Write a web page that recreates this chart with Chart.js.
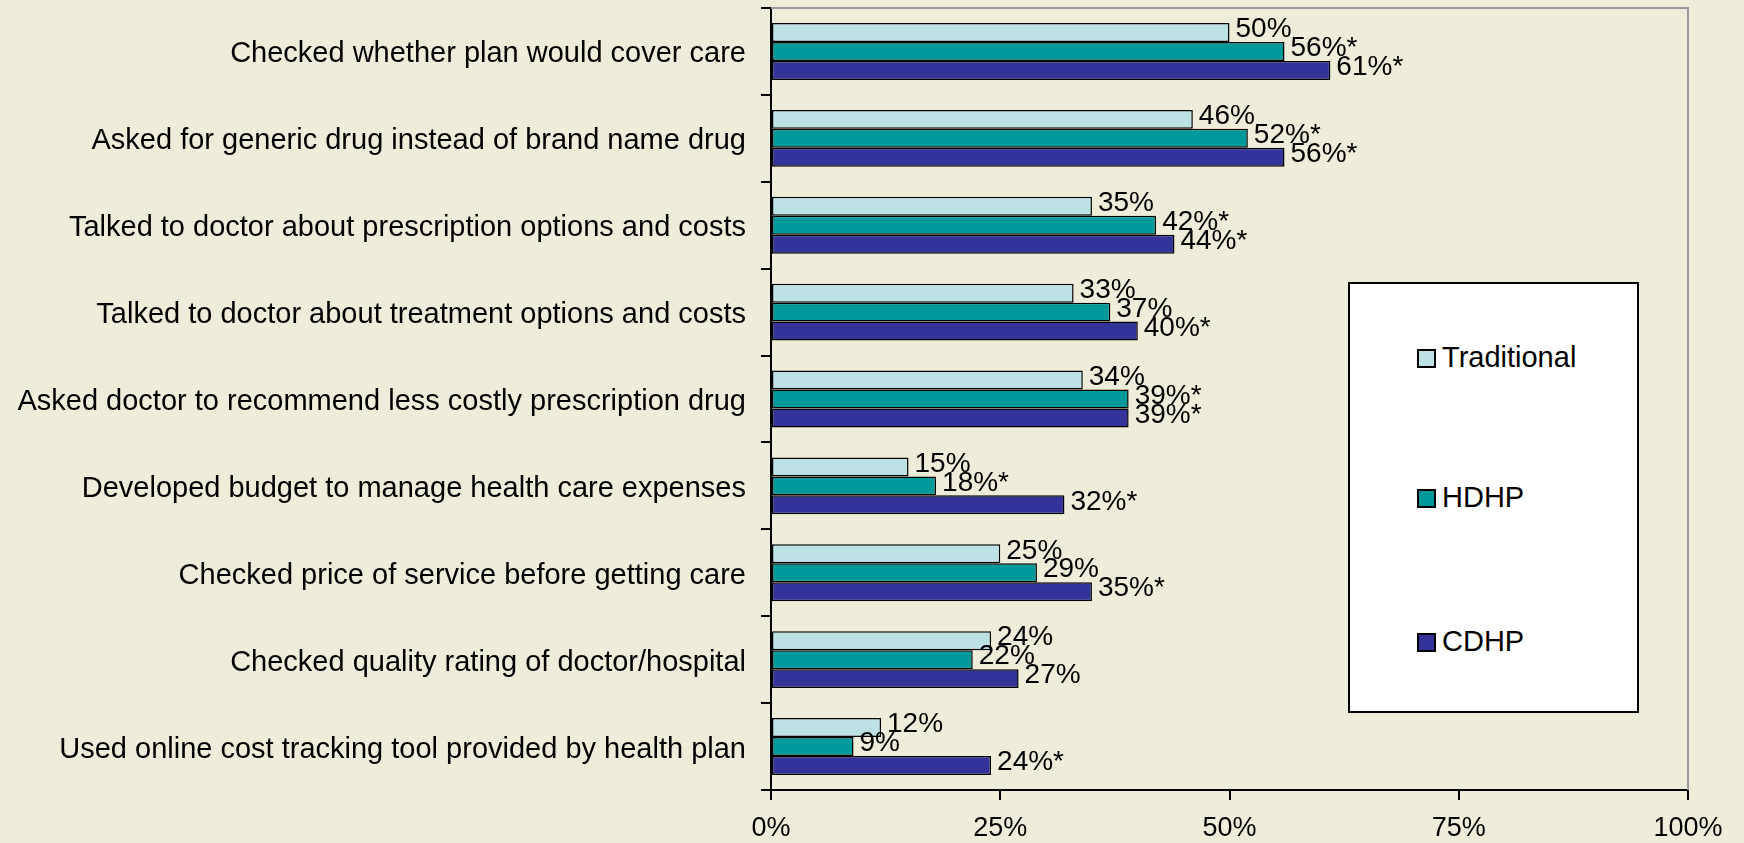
<!DOCTYPE html>
<html>
<head>
<meta charset="utf-8">
<title>Consumer behaviour by plan type</title>
<script src="https://cdn.jsdelivr.net/npm/chart.js@4.4.0/dist/chart.umd.min.js"></script>
<style>
	html, body { margin: 0; padding: 0; background: #EEEDDA; }
	#wrap { position: relative; width: 1744px; height: 843px; }
	#legend {
		position: absolute; left: 1348px; top: 282px; width: 287px; height: 427px;
		background: #fff; border: 2px solid #000;
		font-family: "Liberation Sans", Arial, sans-serif; font-size: 29px; color: #000;
	}
	.item { position: absolute; left: 67px; height: 30px; line-height: 30px; white-space: nowrap; }
	.item span.box { display: inline-block; width: 15px; height: 15px; border: 2px solid #000; margin-right: 6px; vertical-align: -1px; }
</style>
</head>
<body>
<div id="wrap">
	<canvas id="grafico" width="1744" height="843"></canvas>
	<div id="legend"></div>
</div>
<script>
var categorias = [
	"Checked whether plan would cover care",
	"Asked for generic drug instead of brand name drug",
	"Talked to doctor about prescription options and costs",
	"Talked to doctor about treatment options and costs",
	"Asked doctor to recommend less costly prescription drug",
	"Developed budget to manage health care expenses",
	"Checked price of service before getting care",
	"Checked quality rating of doctor/hospital",
	"Used online cost tracking tool provided by health plan"
];
var series = ["Traditional", "HDHP", "CDHP"];
var tradicional = [50, 46, 35, 33, 34, 15, 25, 24, 12];
var hdhp = [56, 52, 42, 37, 39, 18, 29, 22, 9];
var cdhp = [61, 56, 44, 40, 39, 32, 35, 27, 24];
// etiquetas (con * = diferencia significativa)
var etiqTrad = ["50%", "46%", "35%", "33%", "34%", "15%", "25%", "24%", "12%"];
var etiqHdhp = ["56%*", "52%*", "42%*", "37%", "39%*", "18%*", "29%", "22%", "9%"];
var etiqCdhp = ["61%*", "56%*", "44%*", "40%*", "39%*", "32%*", "35%*", "27%", "24%*"];
var ticksX = [0, 25, 50, 75, 100];

var colores = ["#BCE2E6", "#009999", "#333399"];
var fuente = '"Liberation Sans", Arial, sans-serif';
var etiquetas = [etiqTrad, etiqHdhp, etiqCdhp];

// etiquetas de valor al final de cada barra
var valoresPlugin = {
	id: "valores",
	afterDatasetsDraw: function(chart) {
		var ctx = chart.ctx;
		ctx.save();
		ctx.font = "28px " + fuente;
		ctx.fillStyle = "#000";
		ctx.textAlign = "left";
		ctx.textBaseline = "middle";
		chart.data.datasets.forEach(function(ds, d) {
			var meta = chart.getDatasetMeta(d);
			meta.data.forEach(function(bar, i) {
				ctx.fillText(etiquetas[d][i], bar.x + 6, bar.y - 3);
			});
		});
		ctx.restore();
	}
};

// borde gris arriba y a la derecha del area
var bordePlugin = {
	id: "borde",
	beforeDatasetsDraw: function(chart) {
		var a = chart.chartArea, ctx = chart.ctx;
		ctx.save();
		ctx.strokeStyle = "#999";
		ctx.lineWidth = 2;
		ctx.beginPath();
		ctx.moveTo(a.left, a.top);
		ctx.lineTo(a.right, a.top);
		ctx.lineTo(a.right, a.bottom);
		ctx.stroke();
		ctx.restore();
	}
};

var conjuntos = [tradicional, hdhp, cdhp].map(function(v, i) {
	return {
		label: series[i],
		data: v,
		backgroundColor: colores[i],
		borderColor: "#000",
		borderWidth: 1.5,
		borderSkipped: false,
		categoryPercentage: 0.655,
		barPercentage: 1.0
	};
});

new Chart(document.getElementById("grafico"), {
	type: "bar",
	data: { labels: categorias, datasets: conjuntos },
	plugins: [valoresPlugin, bordePlugin],
	options: {
		indexAxis: "y",
		responsive: false,
		animation: false,
		layout: { padding: { top: 8, right: 56, bottom: 0, left: 0 } },
		plugins: { legend: { display: false }, tooltip: { enabled: false } },
		scales: {
			x: {
				min: 0, max: 100,
				afterBuildTicks: function(s) { s.ticks = ticksX.map(function(v) { return { value: v }; }); },
				afterFit: function(s) { s.height = 53; },
				ticks: { font: { family: fuente, size: 27 }, color: "#000", padding: 12,
					callback: function(v) { return v + "%"; } },
				grid: { drawOnChartArea: false, tickLength: 10, color: "#000", lineWidth: 2 },
				border: { color: "#000", width: 2 }
			},
			y: {
				afterFit: function(s) { s.width = 771; s.paddingTop = 0; s.paddingBottom = 0; },
				ticks: { font: { family: fuente, size: 29 }, color: "#000", padding: 15, labelOffset: 3 },
				grid: { offset: true, drawOnChartArea: false, tickLength: 10, color: "#000", lineWidth: 2 },
				border: { color: "#000", width: 2 }
			}
		}
	}
});

// leyenda en HTML
var leg = document.getElementById("legend");
var tops = [58, 198, 342];
series.forEach(function(s, i) {
	var d = document.createElement("div");
	d.className = "item";
	d.style.top = tops[i] + "px";
	d.innerHTML = '<span class="box" style="background:' + colores[i] + '"></span>' + s;
	leg.appendChild(d);
});
</script>
</body>
</html>
